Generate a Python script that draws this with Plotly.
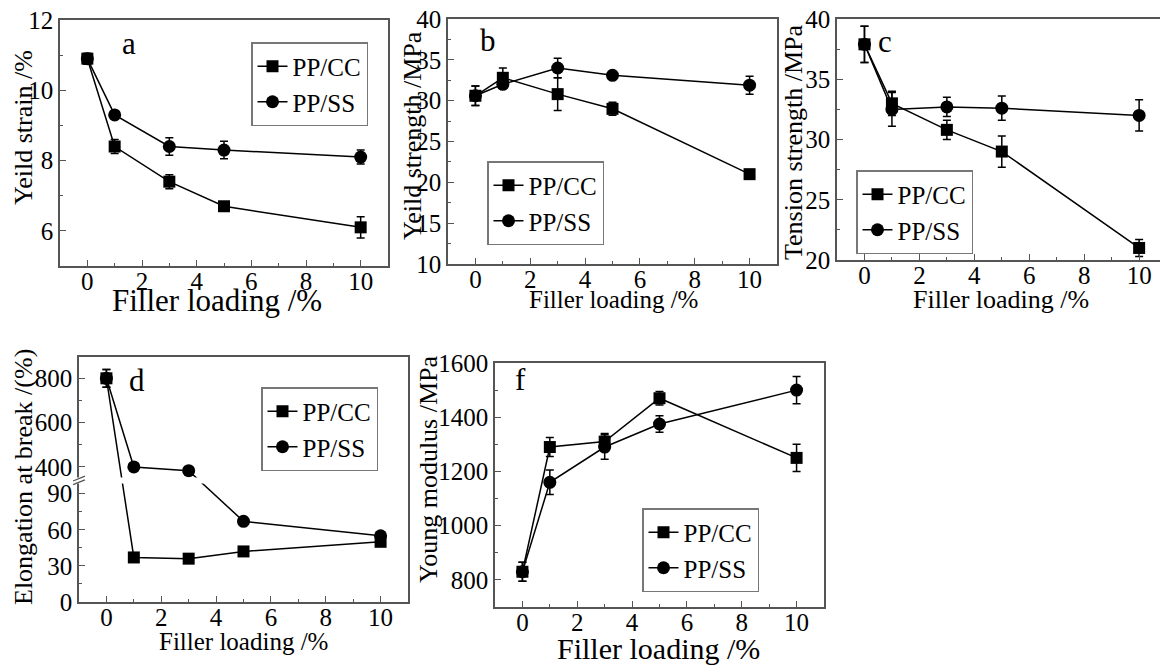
import plotly.graph_objects as go

# ---------------- data ----------------
loading = [0, 1, 3, 5, 10]

# (a) yield strain /%
a_cc = [10.9, 8.4, 7.4, 6.7, 6.1]
a_cc_err = [0.15, 0.2, 0.2, 0.12, 0.3]
a_ss = [10.9, 9.3, 8.4, 8.3, 8.1]
a_ss_err = [0.15, 0.06, 0.25, 0.25, 0.2]

# (b) yield strength /MPa
b_cc = [30.6, 32.8, 30.8, 29.0, 21.0]
b_cc_err = [1.2, 1.2, 2.0, 0.8, 0.3]
b_ss = [30.6, 32.0, 34.0, 33.1, 31.9]
b_ss_err = [1.2, 0.5, 1.2, 0.4, 1.1]

# (c) tension strength /MPa
c_cc = [37.9, 33.0, 30.8, 29.0, 21.0]
c_cc_err = [1.5, 1.0, 0.8, 1.3, 0.7]
c_ss = [37.9, 32.5, 32.7, 32.6, 32.0]
c_ss_err = [1.5, 1.4, 0.8, 1.0, 1.3]

# (d) elongation at break /(%)  (broken axis)
d_cc = [800, 37, 36, 42, 50]
d_cc_err = [40, 2, 2, 2, 2]
d_ss = [800, 400, 383, 67, 55]
d_ss_err = [40, 5, 5, 2, 2]
d_ticks = [0, 30, 60, 90, 400, 600, 800]
d_minor = [15, 45, 75, 500, 700]

# (f) Young modulus /MPa
f_cc = [830, 1290, 1310, 1470, 1250]
f_cc_err = [35, 35, 30, 25, 50]
f_ss = [830, 1160, 1290, 1375, 1500]
f_ss_err = [35, 45, 45, 30, 50]

FONT = "Liberation Serif"
W, H = 1160, 665
AXCOL = "#555555"
TICKFS = 25

# broken-axis scale for panel d
LOW_MAX, UP_MIN, GAP, UP_SCALE = 100.0, 350.0, 3.0, 0.184


def brk(v):
    return v if v <= LOW_MAX else LOW_MAX + GAP + (v - UP_MIN) * UP_SCALE


def px_dom_x(x0, x1):
    return [x0 / W, min(x1 / W, 1.0)]


def px_dom_y(y0, y1):
    return [1 - y1 / H, 1 - y0 / H]


fig = go.Figure()

panels = [
    ("a", "x", "y", a_cc, a_cc_err, a_ss, a_ss_err, "legend"),
    ("b", "x2", "y2", b_cc, b_cc_err, b_ss, b_ss_err, "legend2"),
    ("c", "x3", "y3", c_cc, c_cc_err, c_ss, c_ss_err, "legend3"),
    ("d", "x4", "y4", [brk(v) for v in d_cc], None, [brk(v) for v in d_ss], None, "legend4"),
    ("f", "x5", "y5", f_cc, f_cc_err, f_ss, f_ss_err, "legend5"),
]

for name, xa, ya, cc, ccerr, ss, sserr, leg in panels:
    if name == "d":
        ccerr_up = [brk(v + e) - brk(v) for v, e in zip(d_cc, d_cc_err)]
        ccerr_dn = [brk(v) - brk(v - e) for v, e in zip(d_cc, d_cc_err)]
        sserr_up = [brk(v + e) - brk(v) for v, e in zip(d_ss, d_ss_err)]
        sserr_dn = [brk(v) - brk(v - e) for v, e in zip(d_ss, d_ss_err)]
        e_cc = dict(type="data", array=ccerr_up, arrayminus=ccerr_dn, color="black", thickness=1.5, width=4)
        e_ss = dict(type="data", array=sserr_up, arrayminus=sserr_dn, color="black", thickness=1.5, width=4)
    else:
        e_cc = dict(type="data", array=ccerr, color="black", thickness=1.5, width=4)
        e_ss = dict(type="data", array=sserr, color="black", thickness=1.5, width=4)
    fig.add_trace(go.Scatter(
        x=loading, y=ss, mode="lines+markers", name="PP/SS", xaxis=xa, yaxis=ya,
        line=dict(color="black", width=1.5),
        marker=dict(symbol="circle", size=13, color="black"),
        error_y=e_ss, legend=leg, legendrank=2))
    fig.add_trace(go.Scatter(
        x=loading, y=cc, mode="lines+markers", name="PP/CC", xaxis=xa, yaxis=ya,
        line=dict(color="black", width=1.5),
        marker=dict(symbol="square", size=12, color="black"),
        error_y=e_cc, legend=leg, legendrank=1))

# axes geometry (pixel boxes)
boxes = {
    "": (60, 388, 20, 266, [-1, 11], [5, 12], 2, 1),
    "2": (448, 777, 19, 264, [-1, 11], [10, 40], 5, 2.5),
    "3": (837, 1160, 19, 260, [-1, 10.76], [20, 40], 5, 2.5),
    "4": (79, 408, 357, 602, [-1, 11], [0, 203.5], None, None),
    "5": (495, 824, 363, 607, [-1, 11], [700, 1600], 200, 100),
}

layout = dict(width=W, height=H, margin=dict(l=0, r=0, t=0, b=0, autoexpand=False),
              paper_bgcolor="white", plot_bgcolor="white",
              font=dict(family=FONT, color="black", size=22))

for k, (x0, x1, y0, y1, xr, yr, dt, mdt) in boxes.items():
    layout["xaxis" + k] = dict(
        domain=px_dom_x(x0, x1), range=xr, anchor="y" + k,
        showline=True, linecolor=AXCOL, linewidth=1.5, mirror=True,
        ticks="inside", ticklen=6, tickcolor=AXCOL, tickwidth=1.2,
        dtick=2, tick0=0, showgrid=False, zeroline=False, automargin=False,
        ticklabelstandoff=-8,
        tickfont=dict(family=FONT, size=TICKFS, color="black"),
        minor=dict(ticks="inside", ticklen=3, dtick=1, tick0=0, tickcolor=AXCOL, showgrid=False))
    ya = dict(
        domain=px_dom_y(y0, y1), range=yr, anchor="x" + k,
        showline=True, linecolor=AXCOL, linewidth=1.5, mirror=True,
        ticks="inside", ticklen=6, tickcolor=AXCOL, tickwidth=1.2,
        showgrid=False, zeroline=False, automargin=False,
        tickfont=dict(family=FONT, size=TICKFS, color="black"))
    if dt is not None:
        ya.update(dtick=dt, tick0=0,
                  minor=dict(ticks="inside", ticklen=3, dtick=mdt, tick0=0, tickcolor=AXCOL, showgrid=False))
    else:
        ya.update(tickmode="array", tickvals=[brk(v) for v in d_ticks],
                  ticktext=[str(v) for v in d_ticks],
                  minor=dict(ticks="inside", ticklen=3, tickmode="array",
                             tickvals=[brk(v) for v in d_minor], tickcolor=AXCOL, showgrid=False))
    layout["yaxis" + k] = ya

# legends
leg_pos = {"legend": (251, 42), "legend2": (487, 161), "legend3": (856, 170),
           "legend4": (261, 387), "legend5": (642, 508)}
for lk, (lx, ly) in leg_pos.items():
    layout[lk] = dict(x=lx / W, y=1 - ly / H, xanchor="left", yanchor="top",
                      xref="paper", yref="paper",
                      bgcolor="white", bordercolor="#777777", borderwidth=1.5,
                      font=dict(family=FONT, size=25, color="black"),
                      itemwidth=30, tracegroupgap=0, traceorder="normal")

fig.update_layout(**layout)

# annotations: panel letters, axis titles
ann = []
for t, cx, cy in [("a", 129, 44), ("b", 488, 40), ("c", 885, 42), ("d", 137, 380), ("f", 520, 379)]:
    ann.append(dict(text=t, x=cx / W, y=1 - cy / H, xref="paper", yref="paper",
                    showarrow=False, font=dict(family=FONT, size=31), xanchor="center", yanchor="middle"))

for t, cx, cy, fs in [("Filler loading /%", 217, 300, 31), ("Filler loading /%", 613, 299, 25),
                      ("Filler loading /%", 1001, 299, 26), ("Filler loading /%", 243, 641, 25),
                      ("Filler loading /%", 658, 648, 30)]:
    ann.append(dict(text=t, x=cx / W, y=1 - cy / H, xref="paper", yref="paper",
                    showarrow=False, font=dict(family=FONT, size=fs), xanchor="center", yanchor="middle"))

for t, cx, cy, fs in [("Yeild strain /%", 23, 128, 26), ("Yeild strength /MPa", 412, 136, 26),
                      ("Tension strength /MPa", 794, 142, 26), ("Elongation at break /(%)", 23, 477, 26),
                      ("Young modulus /MPa", 428, 469, 26)]:
    ann.append(dict(text=t, x=cx / W, y=1 - cy / H, xref="paper", yref="paper", textangle=-90,
                    showarrow=False, font=dict(family=FONT, size=fs), xanchor="center", yanchor="middle"))

fig.update_layout(annotations=ann)

# axis break for panel d
shapes = [
    dict(type="rect", xref="x4 domain", yref="y4", x0=-0.01, x1=0.995, y0=98.5, y1=103.5,
         fillcolor="white", line=dict(width=0), layer="above"),
    dict(type="line", xref="x4 domain", yref="y4", x0=-0.018, x1=0.018, y0=97.5, y1=101.5,
         line=dict(color=AXCOL, width=1.3), layer="above"),
    dict(type="line", xref="x4 domain", yref="y4", x0=-0.018, x1=0.018, y0=100.5, y1=104.5,
         line=dict(color=AXCOL, width=1.3), layer="above"),
]
fig.update_layout(shapes=shapes)

fig.write_html(
    "out.html",
    config={"displayModeBar": False},
    post_script="document.body.style.margin='0';document.body.style.padding='0';"
                "document.body.style.overflow='hidden';",
)
